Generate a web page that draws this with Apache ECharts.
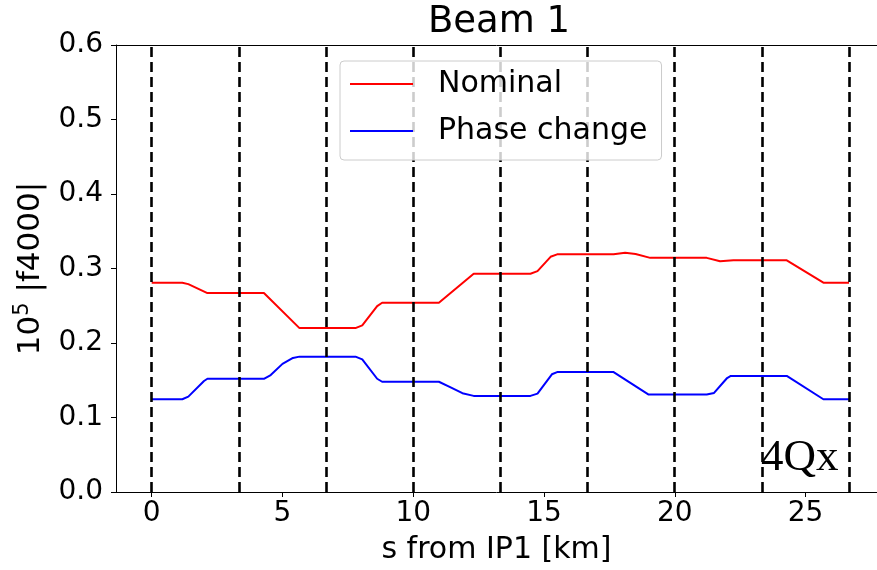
<!DOCTYPE html>
<html>
<head>
<meta charset="utf-8">
<title>Beam 1</title>
<script src="https://cdn.jsdelivr.net/npm/echarts@6/dist/echarts.min.js"></script>
<style>
  html, body { margin: 0; padding: 0; background: #ffffff; }
  #chart { width: 877px; height: 570px; }
</style>
</head>
<body>
<div id="chart"></div>
<script>
// Position along the ring [km] and |f4000| amplitude (x 1e5)
const nominalS = [0, 1.17, 1.4, 2.13, 4.29, 5.65, 7.79, 8.05, 8.62, 8.81, 10.98, 12.31,
  14.48, 14.75, 15.25, 15.5, 17.66, 18.1, 18.5, 19.06, 21.22, 21.73, 22.24, 24.28, 25.68, 26.66];
const nominalF = [0.281, 0.281, 0.279, 0.267, 0.267, 0.220, 0.220, 0.2237, 0.2495, 0.254, 0.254, 0.293,
  0.293, 0.2964, 0.3157, 0.319, 0.319, 0.321, 0.3195, 0.3143, 0.3143, 0.3098, 0.311, 0.311, 0.281, 0.281];

const phaseS = [0, 1.17, 1.4, 2.0, 2.13, 4.29, 4.55, 5.0, 5.4, 5.65, 7.79, 8.05, 8.62, 8.81,
  10.98, 11.37, 11.88, 12.31, 14.48, 14.75, 15.3, 15.5, 17.66, 19.0, 21.22, 21.5, 22.0, 22.14,
  24.28, 25.68, 26.66];
const phaseF = [0.1245, 0.1245, 0.128, 0.149, 0.152, 0.152, 0.157, 0.172, 0.180, 0.1817, 0.1817, 0.178, 0.152, 0.148,
  0.148, 0.1415, 0.1326, 0.129, 0.129, 0.132, 0.158, 0.161, 0.161, 0.1308, 0.1308, 0.133, 0.153, 0.1558,
  0.1558, 0.1245, 0.1245];

// Octant boundaries (IP positions) [km]
const octants = [0, 3.332, 6.665, 9.997, 13.329, 16.662, 19.994, 23.327, 26.659];

const xTicks = [0, 5, 10, 15, 20, 25];
const seriesNames = ['Nominal', 'Phase change'];

const FONT = '"DejaVu Sans", sans-serif';
// visible part of the s range; the right frame edge lies just past the canvas
const X_MIN = -1.365;
const X_MAX = 27.73;

function pairs(xs, ys) {
  return xs.map((x, i) => [x, ys[i]]);
}

const chart = echarts.init(document.getElementById('chart'), null, { renderer: 'canvas' });

chart.setOption({
  animation: false,
  backgroundColor: '#ffffff',
  grid: {
    left: 116,
    top: 45,
    right: 0,
    bottom: 77,
    show: false,
    containLabel: false
  },
  xAxis: [
    {
      type: 'value',
      position: 'bottom',
      min: X_MIN,
      max: X_MAX,
      axisLine: { show: true, onZero: false, lineStyle: { color: '#000000', width: 1 } },
      splitLine: { show: false },
      axisTick: {
        show: true, inside: false, length: 5,
        customValues: xTicks,
        lineStyle: { color: '#000000', width: 1 }
      },
      axisLabel: {
        customValues: xTicks,
        color: '#000000', fontSize: 28, fontFamily: FONT, margin: 8
      },
      name: 's from IP1 [km]',
      nameLocation: 'middle',
      nameGap: 43,
      nameTextStyle: { color: '#000000', fontSize: 30, fontFamily: FONT }
    },
    {
      // top frame edge
      type: 'value',
      position: 'top',
      min: X_MIN,
      max: X_MAX,
      axisLine: { show: true, onZero: false, lineStyle: { color: '#000000', width: 1 } },
      splitLine: { show: false },
      axisTick: { show: false },
      axisLabel: { show: false }
    }
  ],
  yAxis: {
    type: 'value',
    position: 'left',
    min: 0,
    max: 0.6,
    interval: 0.1,
    axisLine: { show: true, onZero: false, lineStyle: { color: '#000000', width: 1 } },
    splitLine: { show: false },
    axisTick: { show: true, inside: false, length: 5, lineStyle: { color: '#000000', width: 1 } },
    axisLabel: {
      color: '#000000', fontSize: 28, fontFamily: FONT, margin: 13,
      formatter: v => v.toFixed(1)
    },
    name: '{b|10}{s|5}{b| |f4000|}',
    nameLocation: 'middle',
    nameRotate: 90,
    nameGap: 70,
    nameTextStyle: {
      color: '#000000', fontFamily: FONT,
      rich: {
        b: { fontSize: 31, fontFamily: FONT, color: '#000000', lineHeight: 34, verticalAlign: 'bottom' },
        s: { fontSize: 21, fontFamily: FONT, color: '#000000', lineHeight: 34, verticalAlign: 'top' }
      }
    }
  },
  legend: {
    data: seriesNames,
    orient: 'vertical',
    left: 340,
    top: 61,
    padding: [8, 14, 14, 10],
    itemGap: 17,
    itemWidth: 63,
    itemHeight: 2,
    icon: 'rect',
    backgroundColor: 'rgba(255,255,255,0.8)',
    borderColor: '#cccccc',
    borderWidth: 1,
    borderRadius: 4,
    z: 10,
    textStyle: {
      color: '#000000', fontSize: 30, fontFamily: FONT, lineHeight: 30,
      padding: [0, 0, 0, 20]
    }
  },
  graphic: [
    {
      type: 'text',
      x: 499, y: 22,
      z: 10,
      style: {
        text: 'Beam 1',
        font: '37px "DejaVu Sans", sans-serif',
        fill: '#000000',
        align: 'center', verticalAlign: 'middle',
        textAlign: 'center', textVerticalAlign: 'middle'
      }
    },
    {
      type: 'text',
      x: 761, y: 458,
      z: 10,
      style: {
        text: '4Qx',
        font: '45px "Liberation Serif", "DejaVu Serif", serif',
        fill: '#000000',
        align: 'left', verticalAlign: 'middle',
        textAlign: 'left', textVerticalAlign: 'middle'
      }
    }
  ],
  series: [
    {
      name: seriesNames[0],
      type: 'line',
      data: pairs(nominalS, nominalF),
      showSymbol: false,
      symbol: 'none',
      lineStyle: { color: '#ff0000', width: 2 },
      itemStyle: { color: '#ff0000' },
      z: 2
    },
    {
      name: seriesNames[1],
      type: 'line',
      data: pairs(phaseS, phaseF),
      showSymbol: false,
      symbol: 'none',
      lineStyle: { color: '#0000ff', width: 2 },
      itemStyle: { color: '#0000ff' },
      z: 2
    },
    {
      name: 'octants',
      type: 'line',
      data: [],
      z: 3,
      markLine: {
        silent: true,
        symbol: ['none', 'none'],
        label: { show: false },
        lineStyle: { color: '#000000', width: 2.6, type: [10, 5] },
        data: octants.map(s => ({ xAxis: s }))
      }
    }
  ]
});
</script>
</body>
</html>
